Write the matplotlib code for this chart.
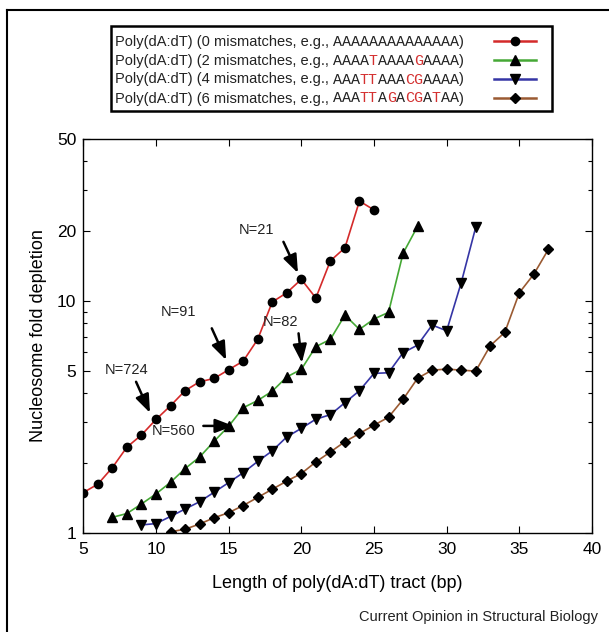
import matplotlib
matplotlib.use('Agg')
import matplotlib.pyplot as plt
from matplotlib.lines import Line2D
from matplotlib.patches import Rectangle
from matplotlib.ticker import FixedLocator, NullFormatter, FixedFormatter

plt.rcParams['font.family'] = ['Liberation Sans', 'DejaVu Sans']

W, H = 609, 632

# ---- data ----
x0 = list(range(5, 26))
y0 = [1.49, 1.62, 1.91, 2.34, 2.64, 3.08, 3.53, 4.10, 4.48, 4.63, 5.05, 5.50, 6.83,
      9.9, 10.85, 12.4, 10.3, 14.9, 16.96, 27.0, 24.7]
x2 = list(range(7, 29))
y2 = [1.165, 1.21, 1.33, 1.47, 1.65, 1.89, 2.12, 2.48, 2.88, 3.46, 3.72, 4.08, 4.70,
      5.07, 6.35, 6.83, 8.69, 7.54, 8.36, 8.93, 16.05, 21.0]
x4 = list(range(9, 33))
y4 = [1.08, 1.095, 1.175, 1.265, 1.36, 1.495, 1.645, 1.815, 2.03, 2.255, 2.59, 2.82,
      3.09, 3.23, 3.64, 4.10, 4.87, 4.90, 5.98, 6.45, 7.87, 7.44, 11.98, 20.8]
x6 = list(range(11, 38))
y6 = [1.01, 1.035, 1.09, 1.16, 1.22, 1.31, 1.42, 1.54, 1.67, 1.80, 2.02, 2.23, 2.47,
      2.68, 2.91, 3.15, 3.76, 4.64, 5.03, 5.08, 5.03, 4.98, 6.41, 7.32, 10.85, 13.06, 16.7]

mismatches = [0, 2, 4, 6]
sequences = ['AAAAAAAAAAAAAA', 'AAAATAAAAGAAAA', 'AAATTAAACGAAAA', 'AAATTAGACGATAA']
colors = ['#d42a2a', '#45a835', '#3535a5', '#9a5a32']
markers = ['o', '^', 'v', 'D']
msizes = [6.0, 7.5, 7.5, 4.8]

xticks = [5, 10, 15, 20, 25, 30, 35, 40]
yticks = [1, 5, 10, 20, 50]
yminor = [2, 3, 4, 6, 7, 8, 9, 30, 40]

# annotations: (label, text_xy, arrow_tail, arrow_tip) in data coords
notes = [
    ('N=21', (16.94, 20.2), (18.77, 18.0), (19.77, 13.2)),
    ('N=91', (11.54, 8.98), (13.84, 7.62), (14.83, 5.56)),
    ('N=82', (18.6, 8.09), (19.81, 7.25), (20.04, 5.41)),
    ('N=724', (7.99, 5.03), (8.63, 4.48), (9.59, 3.29)),
    ('N=560', (11.2, 2.75), (13.26, 2.89), (15.33, 2.89)),
]

# ---- figure ----
fig = plt.figure(figsize=(W / 100, H / 100), dpi=100)
L, R, T, B = 83.3, 592, 139, 532.7
ax = fig.add_axes([L / W, 1 - B / H, (R - L) / W, (B - T) / H])

series = [(x0, y0), (x2, y2), (x4, y4), (x6, y6)]
for (xs, ys), c, m, ms in zip(series, colors, markers, msizes):
    ax.plot(xs, ys, color=c, lw=1.2, marker=m, ms=ms, mfc='black', mec='black', zorder=3)

ax.set_yscale('log')
ax.set_xlim(5, 40)
ax.set_ylim(1, 50)
ax.xaxis.set_major_locator(FixedLocator(xticks))
ax.yaxis.set_major_locator(FixedLocator(yticks))
ax.yaxis.set_major_formatter(FixedFormatter([str(v) for v in yticks]))
ax.yaxis.set_minor_locator(FixedLocator(yminor))
ax.yaxis.set_minor_formatter(NullFormatter())
ax.tick_params(which='both', direction='in', top=True, right=True, labelsize=12.5, width=0.8)
ax.tick_params(which='major', length=5)
ax.tick_params(which='minor', length=3)
ax.tick_params(axis='x', pad=7)
ax.tick_params(axis='y', pad=5)
for s in ax.spines.values():
    s.set_linewidth(1.0)

ax.set_xlabel('Length of poly(dA:dT) tract (bp)', fontsize=13, labelpad=13)
ax.set_ylabel('Nucleosome fold depletion', fontsize=13, labelpad=7)

for lab, txy, tail, tip in notes:
    ax.text(txy[0], txy[1], lab, fontsize=10.5, ha='center', va='center', color='#222222')
    ax.annotate('', xy=tip, xytext=tail,
                arrowprops=dict(arrowstyle='-|>,head_length=1.1,head_width=0.42',
                                lw=1.8, color='black', mutation_scale=10,
                                shrinkA=0, shrinkB=0))

# ---- legend (drawn by hand to allow coloured letters) ----
def fx(px):
    return px / W

def fy(py):
    return 1 - py / H

fig.patches.append(Rectangle((fx(111), fy(111)), fx(552) - fx(111), fy(26) - fy(111),
                             transform=fig.transFigure, fill=False, ec='black', lw=1.8,
                             figure=fig))

renderer = fig.canvas.get_renderer()
row_y = [42, 61, 79.5, 98.5]
for k, (nmm, seq, c, m, ms) in enumerate(zip(mismatches, sequences, colors, markers, msizes)):
    yy = row_y[k]
    xpos = 115
    t = fig.text(fx(xpos), fy(yy), f'Poly(dA:dT) ({nmm} mismatches, e.g.,', fontsize=10.5,
                 va='center', ha='left', color='#222222')
    bb = t.get_window_extent(renderer)
    xpos = bb.x1 + 4
    runs = []
    for ch in seq:
        col = '#222222' if ch == 'A' else '#d43030'
        if runs and runs[-1][1] == col:
            runs[-1][0] += ch
        else:
            runs.append([ch, col])
    for txt, col in runs:
        t = fig.text(xpos / W, fy(yy), txt, fontsize=10.8, family='Liberation Mono',
                     va='center', ha='left', color=col)
        bb = t.get_window_extent(renderer)
        xpos = bb.x1
    fig.text(xpos / W, fy(yy), ')', fontsize=10.5, va='center', ha='left', color='#222222')
    ln = Line2D([fx(494), fx(536)], [fy(row_y[k] - 1), fy(row_y[k] - 1)],
                transform=fig.transFigure, color=c, lw=1.8)
    mk = Line2D([fx(515)], [fy(row_y[k] - 1)], transform=fig.transFigure, marker=m,
                ms=ms, mfc='black', mec='black', ls='none')
    fig.lines.extend([ln, mk])

# outer frame (left and top edges visible)
fig.lines.append(Line2D([fx(7), fx(7)], [0, fy(10)], transform=fig.transFigure, color='black', lw=1.5))
fig.lines.append(Line2D([fx(7), 1], [fy(10), fy(10)], transform=fig.transFigure, color='black', lw=1.5))

fig.text(fx(598), fy(617), 'Current Opinion in Structural Biology', fontsize=10.5,
         ha='right', va='center', color='#222222')

fig.savefig('out.png', dpi=100)
